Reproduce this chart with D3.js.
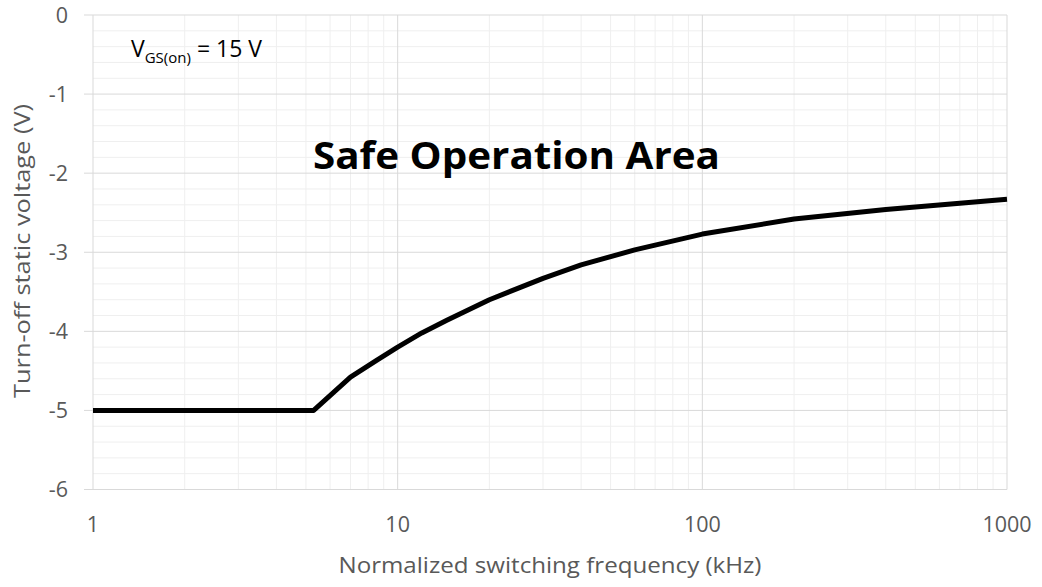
<!DOCTYPE html>
<html><head><meta charset="utf-8">
<script src="https://cdn.jsdelivr.net/npm/d3@7"></script>
<style>body{margin:0;background:#fff}</style>
</head><body>
<svg id="c" width="1042" height="587"></svg>
<script>
const freq    = [1, 5.3, 7, 8.5, 10, 12, 14.5, 20, 30, 40, 60, 100, 200, 400, 700, 1000];
const voltage = [-5, -5, -4.58, -4.37, -4.2, -4.02, -3.86, -3.6, -3.33, -3.16, -2.97, -2.77, -2.58, -2.46, -2.38, -2.33];
const xTicks = [1, 10, 100, 1000];
const yTicks = [0, -1, -2, -3, -4, -5, -6];
const xTitle = "Normalized switching frequency (kHz)";
const yTitle = "Turn-off static voltage (V)";
const areaLabel = "Safe Operation Area";

const svg = d3.select("#c");
const m = {l: 93, r: 1007, t: 15, b: 489.5};
const x = d3.scaleLog().domain([1, 1000]).range([m.l, m.r]);
const y = d3.scaleLinear().domain([-6, 0]).range([m.b, m.t]);
const font = "'Open Sans', 'Noto Sans', sans-serif";
const gray = "#595959";

// minor grid
const minorX = [];
for (let d = 1; d < 1000; d *= 10) for (let k = 2; k <= 9; k++) minorX.push(d * k);
const minorY = d3.range(-6, 0.001, 0.2).map(v => Math.round(v * 10) / 10).filter(v => Math.abs(v - Math.round(v)) > 1e-6);
const g = svg.append("g");
g.selectAll(".mx").data(minorX).enter().append("line")
  .attr("x1", d => x(d)).attr("x2", d => x(d)).attr("y1", m.t).attr("y2", m.b)
  .attr("stroke", "#efefef").attr("stroke-width", 1);
g.selectAll(".my").data(minorY).enter().append("line")
  .attr("x1", m.l).attr("x2", m.r).attr("y1", d => y(d)).attr("y2", d => y(d))
  .attr("stroke", "#efefef").attr("stroke-width", 1);
// major grid
g.selectAll(".Mx").data(xTicks).enter().append("line")
  .attr("x1", d => x(d)).attr("x2", d => x(d)).attr("y1", m.t).attr("y2", m.b)
  .attr("stroke", "#d9d9d9").attr("stroke-width", 1);
g.selectAll(".My").data(yTicks).enter().append("line")
  .attr("x1", m.l - 9).attr("x2", m.r).attr("y1", d => y(d)).attr("y2", d => y(d))
  .attr("stroke", "#d9d9d9").attr("stroke-width", 1);

// tick labels
svg.selectAll(".yl").data(yTicks).enter().append("text")
  .attr("x", 68).attr("y", d => y(d)).attr("dy", "0.36em")
  .attr("text-anchor", "end").attr("fill", gray)
  .style("font-family", font).style("font-size", "21.5px").text(d => d);
svg.selectAll(".xl").data(xTicks).enter().append("text")
  .attr("x", d => x(d)).attr("y", 532)
  .attr("text-anchor", "middle").attr("fill", gray)
  .style("font-family", font).style("font-size", "21.5px").text(d => d);

// axis titles
svg.append("text").attr("x", 550).attr("y", 573).attr("text-anchor", "middle")
  .attr("fill", gray).style("font-family", font).style("font-size", "21.5px")
  .attr("textLength", 423).attr("lengthAdjust", "spacingAndGlyphs").text(xTitle);
svg.append("text").attr("transform", "translate(30,251) rotate(-90)").attr("text-anchor", "middle")
  .attr("fill", gray).style("font-family", font).style("font-size", "21.5px")
  .attr("textLength", 294).attr("lengthAdjust", "spacingAndGlyphs").text(yTitle);

// line
const data = freq.map((f, i) => [f, voltage[i]]);
svg.append("path").datum(data)
  .attr("d", d3.line().x(d => x(d[0])).y(d => y(d[1])).curve(d3.curveLinear))
  .attr("fill", "none").attr("stroke", "#000").attr("stroke-width", 5)
  .attr("stroke-linejoin", "round");

// annotations
const t1 = svg.append("text").attr("x", 131).attr("y", 57).attr("fill", "#000")
  .style("font-family", font).style("font-size", "23px");
t1.append("tspan").text("V");
t1.append("tspan").attr("dy", 6).style("font-size", "15px").text("GS(on)");
t1.append("tspan").attr("dy", -6).text(" = 15 V");

svg.append("text").attr("x", 313).attr("y", 169).attr("fill", "#000")
  .style("font-family", font).style("font-size", "37px").style("font-weight", "bold")
  .attr("textLength", 407).attr("lengthAdjust", "spacingAndGlyphs").text(areaLabel);
</script>
</body></html>
